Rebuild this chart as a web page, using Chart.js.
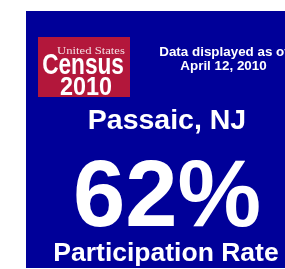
<!DOCTYPE html>
<html>
<head>
<meta charset="utf-8">
<script src="https://cdn.jsdelivr.net/npm/chart.js@4"></script>
<style>
  html, body { margin: 0; padding: 0; background: #ffffff; }
  #c { display: block; }
</style>
</head>
<body>
<canvas id="c" width="285" height="269"></canvas>
<script>
// ---- data ----
const places = ["Passaic, NJ"];
const rates = [62];
const metricLabels = ["Participation Rate"];
const asOfLines = ["Data displayed as of", "April 12, 2010"];
const logoLines = ["United States", "Census", "2010"];

const FONT = "'Liberation Sans', Arial, Helvetica, sans-serif";

const infoPlugin = {
  id: 'infoPanel',
  beforeDraw(chart) {
    const ctx = chart.ctx;
    const W = chart.width, H = chart.height;
    ctx.save();
    ctx.fillStyle = '#ffffff';
    ctx.fillRect(0, 0, W, H);
    // blue panel
    ctx.fillStyle = '#000099';
    ctx.fillRect(26, 11, W - 26, 257);

    // logo
    ctx.fillStyle = '#B3173B';
    ctx.fillRect(38, 37, 92, 60);
    ctx.fillStyle = '#ffffff';
    ctx.textAlign = 'center';
    ctx.textBaseline = 'alphabetic';
    ctx.font = "11px 'Liberation Serif', 'DejaVu Serif', serif";
    ctx.save();
    ctx.translate(91, 54);
    ctx.scale(1.15, 1);
    ctx.fillStyle = '#f4dde2';
    ctx.fillText(logoLines[0], 0, 0);
    ctx.restore();
    ctx.font = "bold 29px " + FONT;
    ctx.save();
    ctx.translate(83, 74);
    ctx.scale(0.78, 1);
    ctx.fillText(logoLines[1], 0, 0);
    ctx.restore();
    ctx.font = "bold 26px " + FONT;
    ctx.save();
    ctx.translate(86, 95);
    ctx.scale(0.9, 1);
    ctx.fillText(logoLines[2], 0, 0);
    ctx.restore();

    // as-of text
    ctx.font = "bold 13.4px " + FONT;
    ctx.fillText(asOfLines[0], 224, 56);
    ctx.fillText(asOfLines[1], 223.5, 70);

    // place
    ctx.font = "bold 28.5px " + FONT;
    ctx.fillText(places[0], 167, 129);

    // rate
    ctx.font = "bold 94px " + FONT;
    ctx.fillText(rates[0] + "%", 167, 226);

    // metric label
    ctx.font = "bold 26.5px " + FONT;
    ctx.fillText(metricLabels[0], 166, 261);
    ctx.restore();
  }
};

new Chart(document.getElementById('c'), {
  type: 'bar',
  data: {
    labels: places,
    datasets: [{
      label: metricLabels[0],
      data: rates,
      backgroundColor: 'rgba(0,0,0,0)',
      borderWidth: 0
    }]
  },
  options: {
    responsive: false,
    animation: false,
    devicePixelRatio: 1,
    events: [],
    scales: {
      x: { display: false },
      y: { display: false, min: 0, max: 100 }
    },
    plugins: {
      legend: { display: false },
      tooltip: { enabled: false },
      title: { display: false }
    }
  },
  plugins: [infoPlugin]
});
</script>
</body>
</html>
